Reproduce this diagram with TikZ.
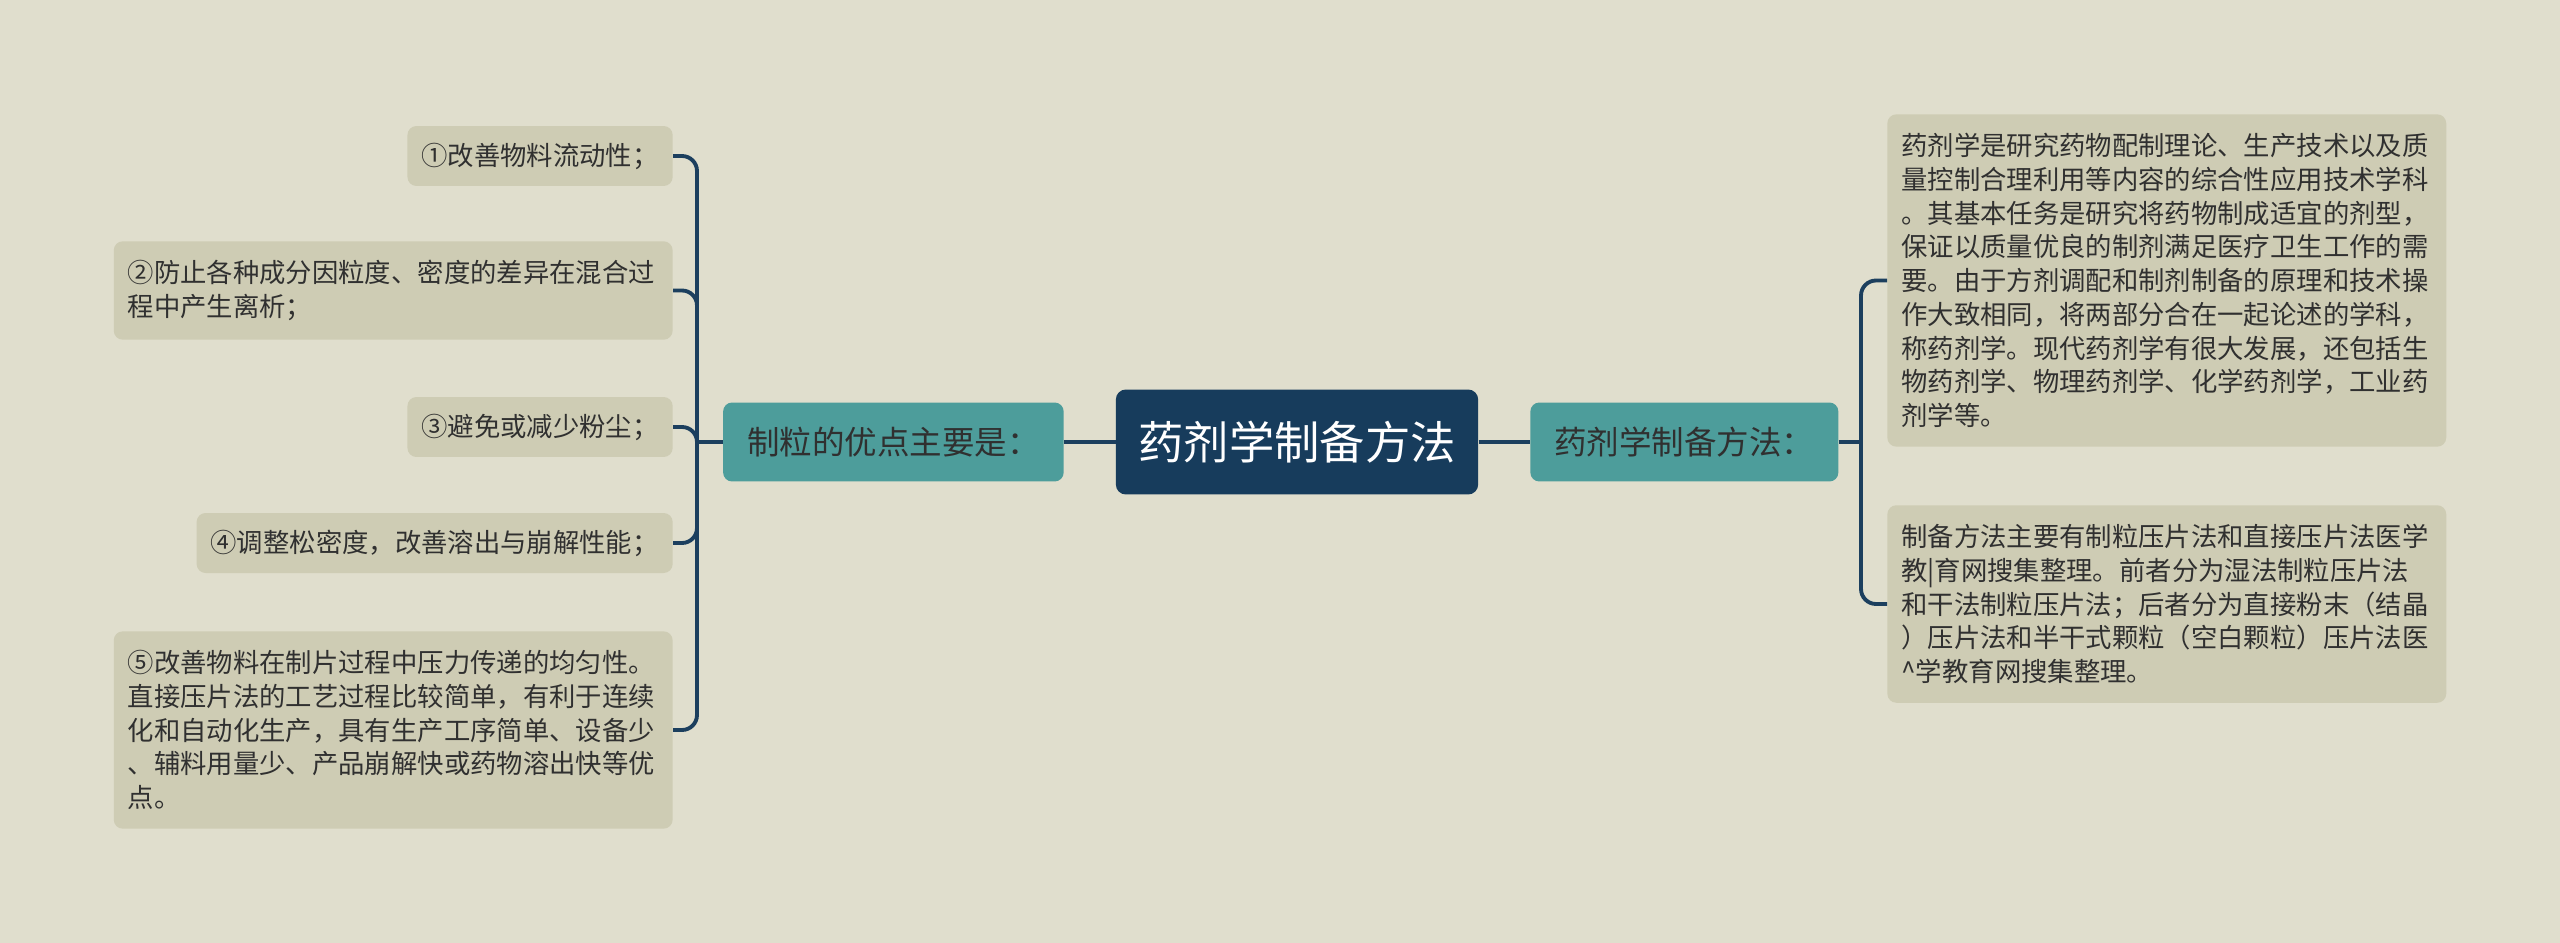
\documentclass[tikz,border=0pt]{standalone}
\usepackage{fontspec}
\setmainfont{Noto Sans CJK SC}
\definecolor{bgcream}{HTML}{E0DECD}
\definecolor{leafgray}{HTML}{CECCB4}
\definecolor{topicteal}{HTML}{4D9D9B}
\definecolor{rootblue}{HTML}{173C5C}
\definecolor{linkblue}{HTML}{1C3F5E}
\definecolor{inkgray}{HTML}{303030}
\begin{document}
\begin{tikzpicture}[x=0.02cm,y=-0.02cm]
\tikzstyle{root}=[fill=rootblue, rounded corners=0.2cm, text=white, font=\fontsize{25.8pt}{30pt}\selectfont, inner xsep=0.45cm, minimum height=2.1cm]
\tikzstyle{topic}=[fill=topicteal, rounded corners=0.18cm, text=inkgray, font=\fontsize{18.5pt}{22pt}\selectfont, inner xsep=0.48cm, minimum height=1.58cm]
\tikzstyle{leaf}=[fill=leafgray, rounded corners=0.18cm, text=inkgray, font=\fontsize{15pt}{19.2pt}\selectfont, inner xsep=0.28cm, inner ysep=0.38cm, align=left]
\tikzstyle{short}=[inner ysep=0.1cm, minimum height=1.2cm]
\tikzstyle{wide}=[text width=10.62cm]
\tikzstyle{link}=[draw=linkblue, line width=2.2pt]
\fill [bgcream] (0,0) rectangle (2560,943);
\node [root] (root) at (1297,442) {药剂学制备方法};
\node [topic, anchor=east] (lsub) at (1064,442) {制粒的优点主要是：};
\node [topic, anchor=west] (rsub) at (1530,442) {药剂学制备方法：};
\coordinate (lfork) at (697,442);
\coordinate (rfork) at (1861,442);
\node [leaf, short, anchor=east] (l1) at (673,156) {①改善物料流动性；};
\node [leaf, wide, anchor=east] (l2) at (673,290.5) {②防止各种成分因粒度、密度的差异在混合过\\程中产生离析；};
\node [leaf, short, anchor=east] (l3) at (673,427) {③避免或减少粉尘；};
\node [leaf, short, anchor=east] (l4) at (673,543) {④调整松密度，改善溶出与崩解性能；};
\node [leaf, wide, anchor=east] (l5) at (673,730) {⑤改善物料在制片过程中压力传递的均匀性。\\直接压片法的工艺过程比较简单，有利于连续\\化和自动化生产，具有生产工序简单、设备少\\、辅料用量少、产品崩解快或药物溶出快等优\\点。};
\node [leaf, wide, anchor=west] (r1) at (1887,280.5) {药剂学是研究药物配制理论、生产技术以及质\\量控制合理利用等内容的综合性应用技术学科\\。其基本任务是研究将药物制成适宜的剂型，\\保证以质量优良的制剂满足医疗卫生工作的需\\要。由于方剂调配和制剂制备的原理和技术操\\作大致相同，将两部分合在一起论述的学科，\\称药剂学。现代药剂学有很大发展，还包括生\\物药剂学、物理药剂学、化学药剂学，工业药\\剂学等。};
\node [leaf, wide, anchor=west] (r2) at (1887,604) {制备方法主要有制粒压片法和直接压片法医学\\教|育网搜集整理。前者分为湿法制粒压片法\\和干法制粒压片法；后者分为直接粉末（结晶\\）压片法和半干式颗粒（空白颗粒）压片法医\\\textasciicircum 学教育网搜集整理。};
\draw [link] (root) -- (lsub);
\draw [link] (root) -- (rsub);
\draw [link] (lsub) -- (lfork);
\draw [link] (rsub) -- (rfork);
\foreach \n in {l1,l2,l3,l4,l5}
  \draw [link, rounded corners=0.3cm] (lfork) |- (\n.east);
\foreach \n in {r1,r2}
  \draw [link, rounded corners=0.3cm] (rfork) |- (\n.west);
\end{tikzpicture}
\end{document}
